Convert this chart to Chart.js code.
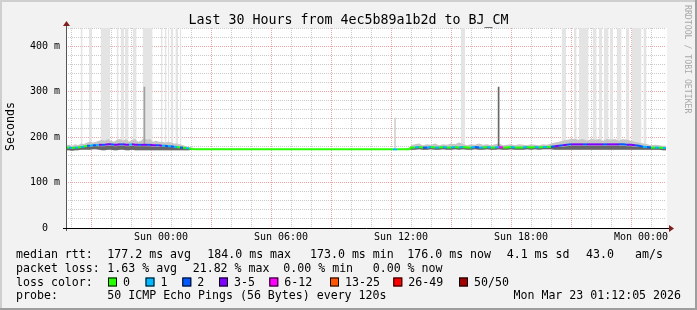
<!DOCTYPE html>
<html>
<head>
<meta charset="utf-8">
<script src="https://cdn.jsdelivr.net/npm/chart.js@4.4.1/dist/chart.umd.min.js"></script>
<style>
  html, body { margin: 0; padding: 0; background: #f2f2f2; }
  #wrap { width: 697px; height: 310px; }
</style>
</head>
<body>
<div id="wrap"><canvas id="smoke-chart" width="697" height="310"></canvas></div>
<script>
// hours relative to Sun 00:00
const medTime = [
  -4.75, -4.6, -4.45, -4.3, -4.15, -4.0, -3.85, -3.7, -3.55, -3.4, -3.25, -3.1,
  -2.95, -2.8, -2.65, -2.5, -2.35, -2.2, -2.05, -1.9, -1.75, -1.6, -1.45, -1.3,
  -1.15, -1.0, -0.85, -0.7, -0.55, -0.4, -0.25, -0.1, 0.05, 0.2, 0.35, 0.5,
  0.65, 0.8, 0.95, 1.1, 1.25, 1.4, 1.55, 1.75, 11.55, 11.6, 11.8, 12.4,
  12.5, 12.7, 12.9, 13.1, 13.3, 13.5, 13.7, 13.9, 14.1, 14.3, 14.5, 14.7,
  14.9, 15.1, 15.3, 15.5, 15.7, 15.9, 16.1, 16.3, 16.5, 16.7, 16.9, 17.1,
  17.3, 17.5, 17.7, 17.9, 18.1, 18.3, 18.5, 18.7, 18.9, 19.1, 19.3, 19.5,
  19.7, 19.9, 20.1, 20.3, 20.5, 20.7, 20.9, 21.1, 21.3, 21.5, 21.7, 21.9,
  22.1, 22.3, 22.5, 22.7, 22.9, 23.1, 23.3, 23.5, 23.7, 23.9, 24.1, 24.3,
  24.5, 24.7, 24.9, 25.1, 25.25
];
// median rtt in ms
const medValue = [
  177, 177, 176, 177, 177, 178, 179, 181, 181, 182, 182, 183,
  183, 183, 184, 184, 183, 183, 184, 184, 183, 183, 184, 183,
  183, 183, 183, 183, 183, 182, 182, 182, 181, 181, 180, 180,
  179, 178, 177, 177, 176, 175, 174, 173, 173, 173, 173, 173,
  177, 177, 178, 177, 177, 178, 177, 177, 178, 177, 177, 178,
  177, 178, 177, 177, 178, 177, 177, 178, 177, 177, 178, 177,
  177, 178, 177, 177, 177, 178, 177, 178, 177, 178, 178, 179,
  180, 181, 182, 183, 184, 184, 184, 184, 184, 184, 184, 184,
  184, 184, 184, 184, 184, 184, 183, 183, 182, 181, 179, 178,
  177, 177, 177, 176, 176
];
// loss class index into lossLabels
const medLoss = [
  0, 1, 0, 1, 0, 1, 0, 2, 1, 2, 1, 3,
  2, 3, 3, 2, 3, 3, 2, 3, 3, 1, 3, 3,
  2, 3, 3, 2, 3, 3, 2, 3, 1, 2, 1, 2,
  1, 0, 2, 0, 1, 0, 0, 0, 0, 1, 0, 0,
  0, 1, 0, 2, 1, 0, 1, 0, 1, 0, 1, 0,
  1, 0, 0, 1, 2, 1, 0, 1, 0, 1, 4, 0,
  0, 1, 0, 0, 1, 0, 0, 1, 0, 1, 0, 2,
  3, 2, 3, 2, 3, 3, 3, 2, 3, 3, 3, 3,
  2, 3, 3, 3, 2, 2, 3, 3, 2, 2, 1, 2,
  0, 1, 0, 1, 0
];
// smoke: lower edge, top of the dense part, top of the thin part (ms)
const smokeLow = [
  171, 171, 170, 171, 171, 172, 172, 172, 172, 173, 173, 172,
  171, 171, 172, 172, 171, 171, 172, 172, 171, 171, 172, 171,
  171, 171, 171, 171, 171, 171, 171, 171, 171, 171, 171, 171,
  171, 171, 171, 171, 171, 171, 172, 173, 173, 173, 173, 173,
  172, 172, 173, 172, 172, 173, 172, 172, 173, 172, 172, 173,
  172, 173, 172, 172, 173, 172, 172, 173, 172, 172, 173, 172,
  172, 173, 172, 172, 172, 173, 172, 173, 172, 173, 173, 173,
  172, 172, 172, 172, 172, 172, 172, 172, 172, 172, 172, 172,
  172, 172, 172, 172, 172, 172, 172, 172, 172, 172, 172, 172,
  172, 172, 172, 171, 171
];
const smokeHigh = [
  178, 178, 177, 178, 178, 178, 178, 179, 179, 180, 180, 180,
  180, 180, 181, 181, 180, 180, 181, 181, 180, 180, 181, 180,
  180, 180, 180, 180, 180, 179, 179, 179, 179, 179, 178, 178,
  177, 177, 176, 176, 176, 175, 174, 173, 173, 173, 173, 173,
  178, 178, 179, 178, 178, 179, 178, 178, 179, 178, 178, 179,
  178, 179, 178, 178, 179, 178, 178, 179, 178, 178, 179, 178,
  178, 179, 178, 178, 178, 179, 178, 179, 178, 179, 179, 179,
  178, 179, 179, 180, 181, 181, 181, 181, 181, 181, 181, 181,
  181, 181, 181, 181, 181, 181, 180, 180, 179, 179, 178, 178,
  178, 178, 178, 177, 177
];
const smokeTop = [
  182, 183, 181, 184, 182, 186, 185, 188, 190, 188, 190, 192,
  194, 192, 196, 192, 190, 194, 196, 192, 196, 190, 194, 196,
  190, 192, 198, 194, 196, 190, 192, 190, 190, 188, 190, 188,
  186, 186, 184, 182, 180, 178, 177, 175, 173, 174, 173, 176,
  182, 184, 186, 182, 184, 183, 186, 182, 184, 183, 186, 184,
  188, 185, 182, 184, 183, 186, 183, 184, 182, 184, 186, 182,
  183, 184, 182, 184, 183, 182, 184, 183, 182, 184, 183, 186,
  188, 190, 192, 194, 196, 196, 194, 196, 192, 196, 194, 196,
  192, 196, 194, 196, 192, 196, 194, 192, 190, 188, 186, 184,
  182, 183, 182, 181, 181
];
// light grey columns where the slowest pings run off the top (hours)
const bandStart = [-4.02, -3.6, -3.02, -2.22, -2.02, -1.8, -1.42, -0.92, 0.0, 0.18, 0.35, 0.48, 0.72, 0.95,
  15.0, 20.03, 20.65, 20.9, 21.58, 21.9, 22.15, 22.45, 22.78, 23.25, 23.53, 24.12];
const bandEnd = [-3.92, -3.45, -2.55, -2.12, -1.85, -1.62, -1.22, -0.42, 0.08, 0.28, 0.42, 0.62, 0.85, 1.02,
  15.2, 20.25, 20.78, 21.38, 21.78, 22.05, 22.38, 22.6, 23.03, 23.42, 24.03, 24.28];
// single high pings
const spikeTime = [-0.83, 11.7, 16.88];
const spikeLow = [184, 173, 178];
const spikeHigh = [310, 242, 310];

const lossLabels = ["0", "1", "2", "3-5", "6-12", "13-25", "26-49", "50/50"];
const lossColors = ["#26ff00", "#00b8ff", "#0059ff", "#7e00ff", "#ff00ff", "#ff5500", "#ff0000", "#a10000"];

const xGridHours = [];
for (let h = -4; h <= 25; h++) xGridHours.push(h);
const xLabelHours = [0, 6, 12, 18, 24];
const xLabels = ["Sun 00:00", "Sun 06:00", "Sun 12:00", "Sun 18:00", "Mon 00:00"];
const yMax = 440;

const mono = "DejaVu Sans Mono";
const minorGrid = "rgba(150,150,150,0.5)";
const majorGrid = "rgba(222,79,79,0.5)";

const bandPoints = bandStart.flatMap((a, i) => [
  { x: a, y: yMax }, { x: bandEnd[i], y: yMax }, { x: bandEnd[i], y: null }
]);
const pts = (arr) => medTime.map((t, i) => ({ x: t, y: arr[i] }));

const rrdDecor = {
  id: "rrdDecor",
  beforeDraw(chart) {
    const { ctx, chartArea: a } = chart;
    ctx.save();
    ctx.fillStyle = "#f2f2f2";
    ctx.fillRect(0, 0, 697, 310);
    ctx.fillStyle = "#cfcfcf";
    ctx.fillRect(0, 0, 697, 2);
    ctx.fillRect(0, 0, 2, 310);
    ctx.fillStyle = "#9e9e9e";
    ctx.fillRect(0, 308, 697, 2);
    ctx.fillRect(695, 0, 2, 310);
    ctx.fillStyle = "#ffffff";
    ctx.fillRect(a.left, a.top, a.right - a.left + 1, a.bottom - a.top);
    ctx.restore();
  },
  afterDraw(chart) {
    const { ctx, chartArea: a } = chart;
    ctx.save();
    // axes
    ctx.lineWidth = 1;
    ctx.strokeStyle = "#555";
    ctx.beginPath();
    ctx.moveTo(a.left + 0.5, a.bottom + 3);
    ctx.lineTo(a.left + 0.5, a.top - 4);
    ctx.stroke();
    ctx.strokeStyle = "#000";
    ctx.beginPath();
    ctx.moveTo(a.left - 3, a.bottom + 0.5);
    ctx.lineTo(a.right + 4, a.bottom + 0.5);
    ctx.stroke();
    ctx.fillStyle = "#801f1f";
    ctx.beginPath();
    ctx.moveTo(a.left + 0.5, a.top - 7);
    ctx.lineTo(a.left - 3, a.top - 2);
    ctx.lineTo(a.left + 4, a.top - 2);
    ctx.closePath();
    ctx.fill();
    ctx.beginPath();
    ctx.moveTo(a.right + 8, a.bottom + 0.5);
    ctx.lineTo(a.right + 3, a.bottom - 3);
    ctx.lineTo(a.right + 3, a.bottom + 4);
    ctx.closePath();
    ctx.fill();

    // title and side texts
    ctx.fillStyle = "#000";
    ctx.font = "13.3px '" + mono + "'";
    ctx.textAlign = "center";
    ctx.textBaseline = "alphabetic";
    ctx.fillText("Last 30 Hours from 4ec5b89a1b2d to BJ_CM", 348.5, 24);

    ctx.font = "11.6px '" + mono + "'";
    ctx.save();
    ctx.translate(14, 126.5);
    ctx.rotate(-Math.PI / 2);
    ctx.fillText("Seconds", 0, 0);
    ctx.restore();

    ctx.save();
    ctx.fillStyle = "#a8a8a8";
    ctx.font = "8.2px '" + mono + "'";
    ctx.translate(685, 5);
    ctx.rotate(Math.PI / 2);
    ctx.textAlign = "left";
    ctx.fillText("RRDTOOL / TOBI OETIKER", 0, 0);
    ctx.restore();

    // legend
    ctx.textAlign = "left";
    ctx.fillStyle = "#000";
    ctx.font = "11.6px '" + mono + "'";
    const row1 = [["median rtt:", 16], ["177.2 ms avg", 107.3], ["184.0 ms max", 207.3],
      ["173.0 ms min", 310], ["176.0 ms now", 407.3], ["4.1 ms sd", 506.7], ["43.0", 586], ["am/s", 635]];
    row1.forEach(([t, x]) => ctx.fillText(t, x, 258));
    const row2 = [["packet loss:", 16], ["1.63 % avg", 107.3], ["21.82 % max", 192.7],
      ["0.00 % min", 283.3], ["0.00 % now", 372.7]];
    row2.forEach(([t, x]) => ctx.fillText(t, x, 272));
    ctx.fillText("loss color:", 16, 285.5);
    const boxX = [108, 145.5, 182.3, 219, 269.3, 330, 393.3, 459];
    lossLabels.forEach((lab, i) => {
      ctx.fillStyle = lossColors[i];
      ctx.fillRect(boxX[i], 277.5, 9, 9);
      ctx.strokeStyle = "#000";
      ctx.strokeRect(boxX[i] + 0.5, 277.5 + 0.5, 8, 8);
      ctx.fillStyle = "#000";
      ctx.fillText(lab, boxX[i] + 15, 285.5);
    });
    ctx.fillText("probe:", 16, 299);
    ctx.fillText("50 ICMP Echo Pings (56 Bytes) every 120s", 107.3, 299);
    ctx.textAlign = "right";
    ctx.fillText("Mon Mar 23 01:12:05 2026", 681, 299);
    ctx.restore();
  }
};

new Chart(document.getElementById("smoke-chart"), {
  type: "line",
  data: {
    datasets: [
      {
        data: bandPoints, order: 6, spanGaps: false,
        borderWidth: 0, pointRadius: 0, borderColor: "rgba(0,0,0,0)",
        backgroundColor: "#e4e4e4", fill: { value: 180 }
      },
      {
        data: pts(smokeLow), order: 5, borderWidth: 0, pointRadius: 0,
        borderColor: "rgba(0,0,0,0)", fill: false
      },
      {
        data: pts(smokeTop), order: 5, borderWidth: 0, pointRadius: 0,
        borderColor: "rgba(0,0,0,0)", backgroundColor: "#c6c6c6", fill: "-1"
      },
      {
        data: pts(smokeLow), order: 4, borderWidth: 0, pointRadius: 0,
        borderColor: "rgba(0,0,0,0)", fill: false
      },
      {
        data: pts(smokeHigh), order: 4, borderWidth: 0, pointRadius: 0,
        borderColor: "rgba(0,0,0,0)", backgroundColor: "#666666", fill: "-1"
      },
      {
        type: "bar", order: 3, grouped: false, barThickness: 1,
        data: spikeTime.map((t, i) => ({ x: t, y: [spikeLow[i], spikeHigh[i]] })),
        backgroundColor: ["#a0a0a0", "#d0d0d0", "#666666"]
      },
      {
        data: pts(medValue), order: 1, borderWidth: 2, pointRadius: 0,
        borderCapStyle: "butt", fill: false,
        segment: { borderColor: (c) => lossColors[medLoss[c.p0DataIndex]] }
      }
    ]
  },
  options: {
    responsive: false,
    animation: false,
    events: [],
    layout: { padding: { left: 0, right: 31, top: 28, bottom: 62 } },
    plugins: { legend: { display: false }, tooltip: { enabled: false }, title: { display: false } },
    scales: {
      x: {
        type: "linear", min: -4.75, max: 25.25, offset: false, z: 1,
        afterBuildTicks: (s) => { s.ticks = xGridHours.map((v) => ({ value: v })); },
        afterFit: (s) => { s.height = 20; },
        grid: {
          drawTicks: false,
          color: (c) => (c.tick && c.tick.value % 3 === 0 ? majorGrid : minorGrid)
        },
        border: { display: false, dash: [1, 1] },
        ticks: {
          autoSkip: false, maxRotation: 0, padding: 3, color: "#000",
          font: { family: mono, size: 10 },
          callback: (v) => { const k = xLabelHours.indexOf(v); return k >= 0 ? xLabels[k] : ""; }
        }
      },
      y: {
        type: "linear", min: 0, max: yMax, z: 1,
        afterBuildTicks: (s) => { const t = []; for (let v = 0; v <= yMax; v += 20) t.push({ value: v }); s.ticks = t; },
        afterFit: (s) => { s.width = 66; },
        grid: {
          drawTicks: false,
          color: (c) => (c.tick && c.tick.value % 100 === 0 ? majorGrid : minorGrid)
        },
        border: { display: false, dash: [1, 1] },
        ticks: {
          autoSkip: false, padding: 6, color: "#000",
          font: { family: mono, size: 10 },
          callback: (v) => (v === 0 ? "0  " : v % 100 === 0 ? v + " m" : "")
        }
      }
    }
  },
  plugins: [rrdDecor]
});
</script>
</body>
</html>
